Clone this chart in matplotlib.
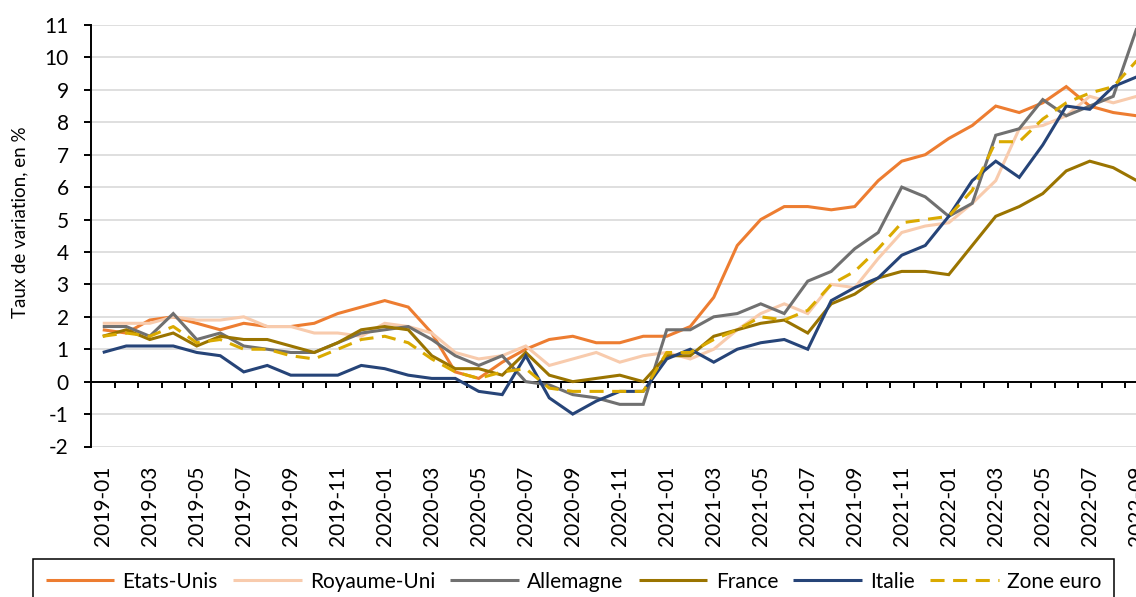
import numpy as np
import pandas as pd
import matplotlib
matplotlib.use("Agg")
import matplotlib.pyplot as plt

plt.rcParams["font.family"] = ["Lato", "DejaVu Sans"]
plt.rcParams["axes.unicode_minus"] = False

# Mois (janvier 2019 a septembre 2022)
mois = pd.date_range("2019-01-01", "2022-09-01", freq="MS").strftime("%Y-%m").tolist()

etats_unis = [1.6, 1.5, 1.9, 2.0, 1.8, 1.6, 1.8, 1.7, 1.7, 1.8, 2.1, 2.3,
              2.5, 2.3, 1.5, 0.3, 0.1, 0.6, 1.0, 1.3, 1.4, 1.2, 1.2, 1.4,
              1.4, 1.7, 2.6, 4.2, 5.0, 5.4, 5.4, 5.3, 5.4, 6.2, 6.8, 7.0,
              7.5, 7.9, 8.5, 8.3, 8.6, 9.1, 8.5, 8.3, 8.2]
royaume_uni = [1.8, 1.8, 1.8, 2.0, 1.9, 1.9, 2.0, 1.7, 1.7, 1.5, 1.5, 1.4,
               1.8, 1.7, 1.5, 0.9, 0.7, 0.8, 1.1, 0.5, 0.7, 0.9, 0.6, 0.8,
               0.9, 0.7, 1.0, 1.6, 2.1, 2.4, 2.1, 3.0, 2.9, 3.8, 4.6, 4.8,
               4.9, 5.5, 6.2, 7.8, 7.9, 8.2, 8.8, 8.6, 8.8]
allemagne = [1.7, 1.7, 1.4, 2.1, 1.3, 1.5, 1.1, 1.0, 0.9, 0.9, 1.2, 1.5,
             1.6, 1.7, 1.3, 0.8, 0.5, 0.8, 0.0, -0.1, -0.4, -0.5, -0.7, -0.7,
             1.6, 1.6, 2.0, 2.1, 2.4, 2.1, 3.1, 3.4, 4.1, 4.6, 6.0, 5.7,
             5.1, 5.5, 7.6, 7.8, 8.7, 8.2, 8.5, 8.8, 10.9]
france = [1.4, 1.6, 1.3, 1.5, 1.1, 1.4, 1.3, 1.3, 1.1, 0.9, 1.2, 1.6,
          1.7, 1.6, 0.8, 0.4, 0.4, 0.2, 0.9, 0.2, 0.0, 0.1, 0.2, 0.0,
          0.8, 0.8, 1.4, 1.6, 1.8, 1.9, 1.5, 2.4, 2.7, 3.2, 3.4, 3.4,
          3.3, 4.2, 5.1, 5.4, 5.8, 6.5, 6.8, 6.6, 6.2]
italie = [0.9, 1.1, 1.1, 1.1, 0.9, 0.8, 0.3, 0.5, 0.2, 0.2, 0.2, 0.5,
          0.4, 0.2, 0.1, 0.1, -0.3, -0.4, 0.8, -0.5, -1.0, -0.6, -0.3, -0.3,
          0.7, 1.0, 0.6, 1.0, 1.2, 1.3, 1.0, 2.5, 2.9, 3.2, 3.9, 4.2,
          5.1, 6.2, 6.8, 6.3, 7.3, 8.5, 8.4, 9.1, 9.4]
zone_euro = [1.4, 1.5, 1.4, 1.7, 1.2, 1.3, 1.0, 1.0, 0.8, 0.7, 1.0, 1.3,
             1.4, 1.2, 0.7, 0.3, 0.1, 0.3, 0.4, -0.2, -0.3, -0.3, -0.3, -0.3,
             0.9, 0.9, 1.3, 1.6, 2.0, 1.9, 2.2, 3.0, 3.4, 4.1, 4.9, 5.0,
             5.1, 5.9, 7.4, 7.4, 8.1, 8.6, 8.9, 9.1, 9.9]

series = [
    ("Etats-Unis", etats_unis, "#ED7D31", "-"),
    ("Royaume-Uni", royaume_uni, "#F8CBAD", "-"),
    ("Allemagne", allemagne, "#707070", "-"),
    ("France", france, "#9A7400", "-"),
    ("Italie", italie, "#264478", "-"),
    ("Zone euro", zone_euro, "#DAAA00", "--"),
]

fig = plt.figure(figsize=(11.36, 5.97), dpi=100)
# zone de tracé un peu plus large que l'image (coupée à droite comme l'original)
ax = fig.add_axes([91 / 1136, 1 - 446.5 / 597, 1057.5 / 1136, 421.5 / 597])

x = np.arange(len(mois))
for nom, vals, couleur, style in series:
    line, = ax.plot(x, vals, color=couleur, lw=2.2, label=nom, zorder=3,
                    solid_joinstyle="miter", solid_capstyle="butt")
    if style == "--":
        line.set_dashes((4.6, 2.8))

ax.set_xlim(-0.5, len(mois) - 0.5)
ax.set_ylim(-2, 11)
ax.set_yticks(range(-2, 12))
ax.grid(axis="y", color="#d9d9d9", lw=1.2)
ax.set_axisbelow(True)

for s in ["top", "right", "bottom"]:
    ax.spines[s].set_visible(False)
ax.spines["left"].set_linewidth(1.4)
ax.tick_params(axis="y", direction="out", length=5, width=1.4, pad=11,
               labelsize=15)

ax.set_xticks(x[::2])
ax.set_xticklabels(mois[::2], rotation=90)
ax.tick_params(axis="x", length=0, pad=14, labelsize=15)

# axe horizontal à zéro avec graduations entre les mois
ax.axhline(0, color="black", lw=1.4, zorder=2)
axe_zero = ax.secondary_xaxis(2 / 13)
axe_zero.set_xticks(np.arange(0.5, len(mois) - 0.5, 1))
axe_zero.tick_params(direction="out", length=4.5, width=1.4, labelbottom=False)
for s in axe_zero.spines.values():
    s.set_visible(False)

ax.set_ylabel("Taux de variation, en %", fontsize=13.5, va="center")
ax.yaxis.set_label_coords(-0.067, 0.532)

fig.legend(loc="upper left", bbox_to_anchor=(33 / 1136, 1 - 559 / 597),
           ncol=6, fontsize=15, frameon=True, fancybox=False,
           edgecolor="black", framealpha=1, borderaxespad=0,
           handlelength=3.3, handletextpad=0.4, columnspacing=0.72,
           borderpad=0.6).get_frame().set_linewidth(1.1)

fig.savefig("out.png", dpi=100)
